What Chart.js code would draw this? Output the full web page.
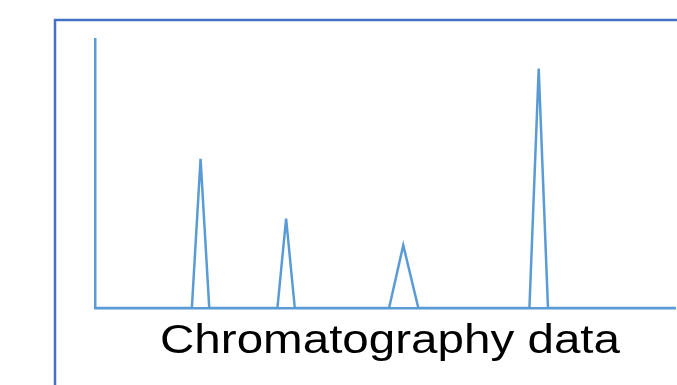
<!DOCTYPE html>
<html lang="en">
<head>
  <meta charset="UTF-8">
  <script src="https://cdn.jsdelivr.net/npm/chart.js"></script>
  <title>Chromatography data</title>
  <style>
    html, body { margin: 0; padding: 0; overflow: hidden; background: #fff; }
    #wrap { position: relative; width: 677px; height: 385px; }
  </style>
</head>
<body>
  <div id="wrap">
    <canvas id="myChart"></canvas>
  </div>

<script>
// retention time (min) and detector signal
var tempos = [0, 3.34, 3.64, 3.94, 6.29, 6.59, 6.89, 10.14, 10.63, 11.15, 14.98, 15.3, 15.62, 20];
var sinal  = [0, 0, 55.5, 0, 0, 33.2, 0, 0, 23.3, 0, 0, 89, 0, 0];
var titulo = 'Chromatography data';

var pontos = [];
for (var i = 0; i < tempos.length; i++) {
  pontos.push({ x: tempos[i], y: sinal[i] });
}

// moldura azul em volta do grafico
const moldura = {
  id: 'moldura',
  beforeDraw(chart) {
    const ctx = chart.ctx;
    ctx.save();
    ctx.strokeStyle = '#4472C4';
    ctx.lineWidth = 2.5;
    ctx.strokeRect(55, 20, 700, 420);
    ctx.restore();
  }
};

// titulo embaixo, um pouco esticado na horizontal como no original
const tituloLargo = {
  id: 'tituloLargo',
  afterDraw(chart) {
    const ctx = chart.ctx;
    const area = chart.chartArea;
    ctx.save();
    ctx.font = '40px "Liberation Sans", Arial, sans-serif';
    ctx.fillStyle = '#000';
    ctx.textAlign = 'center';
    ctx.textBaseline = 'alphabetic';
    const largura = ctx.measureText(titulo).width;
    ctx.translate((area.left + area.right) / 2 + 5, area.bottom + 45);
    ctx.scale(460 / largura, 1);
    ctx.fillText(titulo, 0, 0);
    ctx.restore();
  }
};

const config = {
  type: 'line',
  data: {
    datasets: [{
      label: 'Sinal',
      data: pontos,
      borderColor: '#5B9BD5',
      borderWidth: 2.5,
      pointRadius: 0,
      fill: false,
      tension: 0
    }]
  },
  options: {
    responsive: true,
    maintainAspectRatio: false,
    animation: false,
    layout: { padding: { left: 95, top: 39, right: 2, bottom: 77 } },
    plugins: {
      legend: { display: false },
      title: { display: false },
      tooltip: { enabled: false }
    },
    scales: {
      x: {
        type: 'linear',
        min: 0,
        max: 20,
        ticks: { display: false },
        grid: { display: false, drawTicks: false },
        border: { display: true, color: '#5B9BD5', width: 2.5 }
      },
      y: {
        min: 0,
        max: 100,
        ticks: { display: false },
        grid: { display: false, drawTicks: false },
        border: { display: true, color: '#5B9BD5', width: 2.5 }
      }
    }
  },
  plugins: [moldura, tituloLargo]
};

let myChart = new Chart(document.getElementById('myChart'), config);
</script>
</body>
</html>
